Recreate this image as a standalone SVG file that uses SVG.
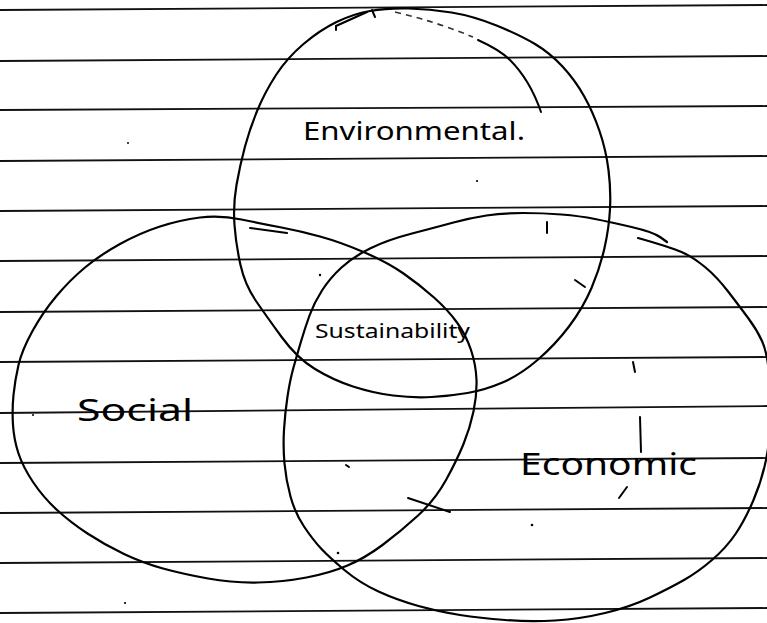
<svg xmlns="http://www.w3.org/2000/svg" width="767" height="623" viewBox="0 0 767 623">
<style>
.rule{stroke:#111;stroke-width:1.8;fill:none}
.ring{stroke:#000;stroke-width:2.2;fill:none;stroke-linecap:round;stroke-linejoin:round}
.mark{stroke:#000;stroke-width:2;fill:none;stroke-linecap:round}
.hand{font-family:"Noto Sans","DejaVu Sans",sans-serif;fill:#000;font-weight:400}
</style>
<rect width="767" height="623" fill="#fff"/>
<g id="paper-lines">
<line class="rule" x1="0" y1="10" x2="767" y2="5"/>
<line class="rule" x1="0" y1="61" x2="767" y2="56"/>
<line class="rule" x1="0" y1="110" x2="767" y2="106"/>
<line class="rule" x1="0" y1="161" x2="767" y2="156"/>
<line class="rule" x1="0" y1="211" x2="767" y2="206"/>
<line class="rule" x1="0" y1="261" x2="767" y2="256"/>
<line class="rule" x1="0" y1="312" x2="767" y2="307"/>
<line class="rule" x1="0" y1="362" x2="767" y2="357"/>
<line class="rule" x1="0" y1="413" x2="767" y2="406"/>
<line class="rule" x1="0" y1="463" x2="767" y2="458"/>
<line class="rule" x1="0" y1="513" x2="767" y2="508"/>
<line class="rule" x1="0" y1="563" x2="767" y2="558"/>
<line class="rule" x1="0" y1="613" x2="767" y2="608"/>
</g>
<g id="environmental">
<path class="ring" d="M408.5,8.5 Q387,8 370,11 Q353,14 336.5,22 Q320,30 303.5,44 Q287,58 276,75 Q265,92 257.5,110 Q250,128 245,146.5 Q240,165 236.5,185 Q233,205 234.5,225 Q236,245 240.5,265 Q245,285 256,301 Q267,317 282,337.5 Q297,358 315,369 Q333,380 353,386.5 Q373,393 393,395.5 Q413,398 431.5,397 Q450,396 467.5,393 Q485,390 502.5,382.5 Q520,375 537.5,360 Q555,345 569,326.5 Q583,308 591.5,288 Q600,268 604.5,248 Q609,228 610,209 Q611,190 608.5,170 Q606,150 599.5,131 Q593,112 584,96 Q575,80 562.5,66.5 Q550,53 535,44 Q520,35 496.5,25.5 Q473,16 451.5,12.5 Q430,9 408.5,8.5 Z"/>
<path d="M395,12 Q437,22 473,37" stroke="#333" stroke-width="1.6" fill="none" stroke-dasharray="6 5"/>
<path class="mark" d="M478,40 Q500,50 510,60 Q530,80 541,112"/>
<path class="mark" d="M336,30 L336,26 L367,12"/>
<path class="mark" d="M372,10 L375,17"/>
<text class="hand" x="303" y="140" font-size="26" textLength="222" lengthAdjust="spacingAndGlyphs">Environmental.</text>
</g>
<g id="social">
<path class="ring" d="M200,217.5 Q220,215 241.5,219.5 Q263,224 281.5,227.5 Q300,231 320,236.5 Q340,242 363.5,252 Q387,262 403.5,273.5 Q420,285 434,297.5 Q448,310 457,322.5 Q466,335 471,350 Q476,365 476.5,380 Q477,395 473.5,411.5 Q470,428 463.5,444 Q457,460 446,480 Q435,500 417.5,516 Q400,532 382.5,545 Q365,558 347.5,565.5 Q330,573 306.5,577.5 Q283,582 258,582.5 Q233,583 208,578.5 Q183,574 163,568.5 Q143,563 124,554 Q105,545 87.5,533.5 Q70,522 56.5,509.5 Q43,497 33,482 Q23,467 18.5,453.5 Q14,440 13,425 Q12,410 13.5,395 Q15,380 18.5,365 Q22,350 32.5,331 Q43,312 56.5,296 Q70,280 85,267.5 Q100,255 120,244 Q140,233 160,226.5 Q180,220 200,217.5 Z"/>
<path class="mark" d="M250,228 L287,233"/>
<text class="hand" x="77" y="421" font-size="30" textLength="116" lengthAdjust="spacingAndGlyphs">Social</text>
</g>
<g id="economic">
<path class="ring" d="M638,238 Q670,247 681.5,252 Q693,257 705,267 Q717,277 728.5,292 Q740,307 748.5,318.5 Q757,330 762,341 Q767,352 769.5,376 Q772,400 771,420 Q770,440 766,460 Q762,480 753.5,500 Q745,520 735.5,534 Q726,548 712,560 Q698,572 684,580 Q670,588 650,597.5 Q630,607 605,613 Q580,619 555,620.5 Q530,622 505,620 Q480,618 460,615 Q440,612 418.5,606 Q397,600 378.5,591.5 Q360,583 345,570.5 Q330,558 321.5,549 Q313,540 304,526.5 Q295,513 290.5,496.5 Q286,480 284.5,463.5 Q283,447 284,430 Q285,413 287.5,396.5 Q290,380 293.5,367.5 Q297,355 301,341.5 Q305,328 309.5,315.5 Q314,303 322,290.5 Q330,278 341.5,267.5 Q353,257 370,248.5 Q387,240 412,233.5 Q437,227 453.5,222.5 Q470,218 486.5,215.5 Q503,213 523,213 Q543,213 561.5,214.5 Q580,216 595,219 Q610,222 631.5,227 Q653,232 660,237 L667,242"/>
<text class="hand" x="520" y="475" font-size="30" textLength="177" lengthAdjust="spacingAndGlyphs">Economic</text>
</g>
<g id="sustainability">
<text class="hand" x="315" y="338" font-size="19" textLength="155" lengthAdjust="spacingAndGlyphs">Sustainability</text>
</g>
<g id="stray-marks">
<path class="mark" d="M547,222 L547,233"/>
<path class="mark" d="M575,280 L585,287"/>
<path class="mark" d="M633,362 L635,372" stroke-width="1.4"/>
<path class="mark" d="M640,417 L641,452"/>
<path class="mark" d="M627,487 L619,498" stroke-width="1.6"/>
<path class="mark" d="M346,465 L349,467"/>
<path class="mark" d="M408,498 L450,512"/>
<circle cx="532" cy="525" r="1.3"/>
<circle cx="338" cy="553" r="1.3"/>
<circle cx="125" cy="603" r="1.1"/>
<circle cx="33" cy="415" r="1"/>
<circle cx="320" cy="275" r="1.2"/>
<circle cx="128" cy="143" r="1"/>
<circle cx="477" cy="181" r="1.1"/>
</g>
</svg>
